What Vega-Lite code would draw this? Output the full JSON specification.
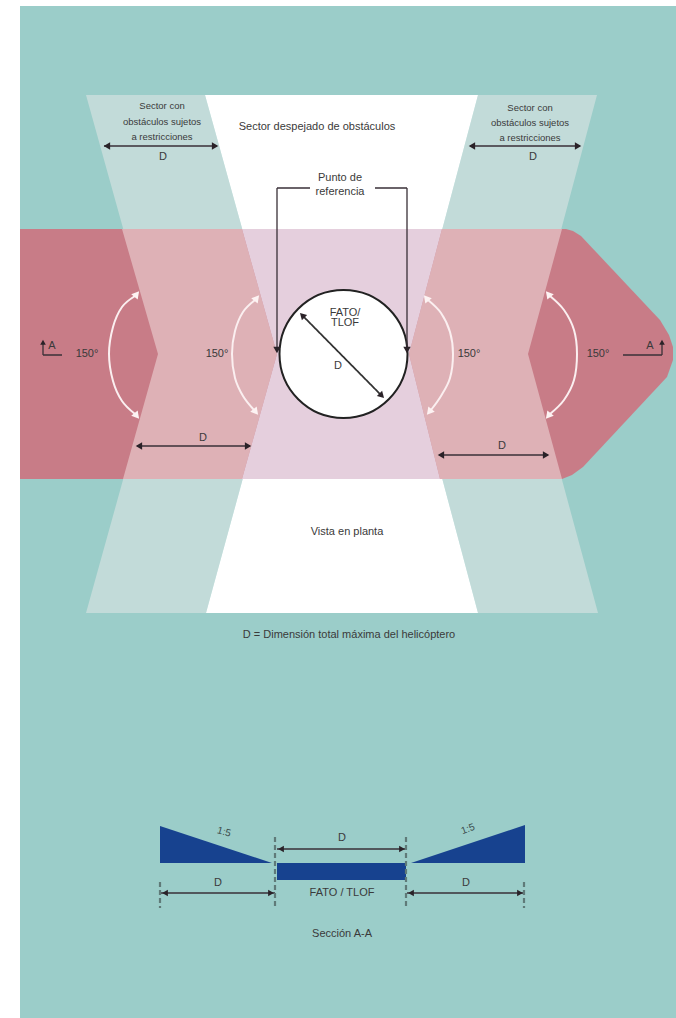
{"$schema":"https://vega.github.io/schema/vega-lite/v6.json","width":676,"height":1018,"padding":0,"autosize":"none","background":"#ffffff","config":{"view":{"stroke":null}},
"resolve":{"scale":{"color":"independent"}},
"datasets":{
"regions":[
{"region":"teal","y":6,"x":20,"x2":676},{"region":"teal","y":1018,"x":20,"x2":676},
{"region":"fanL","y":95,"x":86,"x2":205},{"region":"fanL","y":354,"x":158,"x2":277},{"region":"fanL","y":613,"x":86,"x2":206},
{"region":"fanR","y":95,"x":478,"x2":597},{"region":"fanR","y":354,"x":409,"x2":528},{"region":"fanR","y":613,"x":478,"x2":598},
{"region":"clear","y":95,"x":205,"x2":478},{"region":"clear","y":354,"x":277,"x2":409},{"region":"clear","y":613,"x":206,"x2":478},
{"region":"band","y":229,"x":20,"x2":566},{"region":"band","y":231,"x":20,"x2":573},{"region":"band","y":236,"x":20,"x2":581},{"region":"band","y":320,"x":20,"x2":660},{"region":"band","y":335,"x":20,"x2":669},{"region":"band","y":347,"x":20,"x2":673},{"region":"band","y":360,"x":20,"x2":673},{"region":"band","y":377,"x":20,"x2":667},{"region":"band","y":467,"x":20,"x2":583},{"region":"band","y":475,"x":20,"x2":572},{"region":"band","y":479,"x":20,"x2":562},
{"region":"pinkL","y":229,"x":122,"x2":242},{"region":"pinkL","y":354,"x":158,"x2":277},{"region":"pinkL","y":479,"x":123,"x2":242},
{"region":"pinkR","y":229,"x":442,"x2":562},{"region":"pinkR","y":354,"x":409,"x2":528},{"region":"pinkR","y":479,"x":440,"x2":562},
{"region":"lilac","y":229,"x":242,"x2":442},{"region":"lilac","y":354,"x":277,"x2":409},{"region":"lilac","y":479,"x":242,"x2":440},
{"region":"wedgeL","y":826,"x":160,"x2":160},{"region":"wedgeL","y":863,"x":160,"x2":272},
{"region":"wedgeR","y":825,"x":525,"x2":525},{"region":"wedgeR","y":863,"x":411,"x2":525},
{"region":"pad","y":863,"x":277,"x2":406},{"region":"pad","y":880,"x":277,"x2":406}
],
"circle":[{"x":343.5,"y":354}],
"lines":[
{"id":"d1","tone":"dark","x":104,"y":146},{"id":"d1","tone":"dark","x":217,"y":146},
{"id":"d2","tone":"dark","x":470,"y":146},{"id":"d2","tone":"dark","x":580,"y":146},
{"id":"d3","tone":"dark","x":137,"y":446},{"id":"d3","tone":"dark","x":250,"y":446},
{"id":"d4","tone":"dark","x":439,"y":455},{"id":"d4","tone":"dark","x":548,"y":455},
{"id":"refL","tone":"dark","x":310,"y":188},{"id":"refL","tone":"dark","x":277,"y":188},{"id":"refL","tone":"dark","x":277,"y":350},
{"id":"refR","tone":"dark","x":375,"y":188},{"id":"refR","tone":"dark","x":407,"y":188},{"id":"refR","tone":"dark","x":407,"y":350},
{"id":"diam","tone":"heavy","x":302,"y":315},{"id":"diam","tone":"heavy","x":382,"y":396},
{"id":"aL","tone":"dark","x":43,"y":342},{"id":"aL","tone":"dark","x":43,"y":355},{"id":"aL","tone":"dark","x":62,"y":355},
{"id":"aR","tone":"dark","x":623,"y":355},{"id":"aR","tone":"dark","x":662,"y":355},{"id":"aR","tone":"dark","x":662,"y":342},
{"id":"s1","tone":"dark","x":277,"y":849},{"id":"s1","tone":"dark","x":406,"y":849},
{"id":"s2","tone":"dark","x":161,"y":893},{"id":"s2","tone":"dark","x":275,"y":893},
{"id":"s3","tone":"dark","x":407,"y":893},{"id":"s3","tone":"dark","x":524,"y":893},
{"id":"t1","tone":"tick","x":275,"y":837},{"id":"t1","tone":"tick","x":275,"y":908},
{"id":"t2","tone":"tick","x":406,"y":837},{"id":"t2","tone":"tick","x":406,"y":908},
{"id":"t3","tone":"tick","x":160,"y":882},{"id":"t3","tone":"tick","x":160,"y":908},
{"id":"t4","tone":"tick","x":524,"y":882},{"id":"t4","tone":"tick","x":524,"y":908}
],
"arcs":[
{"id":"a1","x":135,"y":296},{"id":"a1","x":122,"y":307},{"id":"a1","x":113,"y":327},{"id":"a1","x":109,"y":354},{"id":"a1","x":113,"y":381},{"id":"a1","x":122,"y":401},{"id":"a1","x":135,"y":414},
{"id":"a2","x":255,"y":300},{"id":"a2","x":243,"y":312},{"id":"a2","x":235,"y":331},{"id":"a2","x":232,"y":354},{"id":"a2","x":235,"y":378},{"id":"a2","x":243,"y":396},{"id":"a2","x":254,"y":410},
{"id":"a3","x":428,"y":300},{"id":"a3","x":441,"y":313},{"id":"a3","x":450,"y":332},{"id":"a3","x":453,"y":354},{"id":"a3","x":450,"y":378},{"id":"a3","x":441,"y":396},{"id":"a3","x":431,"y":410},
{"id":"a4","x":550,"y":296},{"id":"a4","x":564,"y":310},{"id":"a4","x":574,"y":330},{"id":"a4","x":577,"y":354},{"id":"a4","x":574,"y":380},{"id":"a4","x":564,"y":400},{"id":"a4","x":550,"y":414}
],
"heads":[
{"x":108,"y":146,"bearing":270,"kind":"big"},{"x":214,"y":146,"bearing":90,"kind":"big"},
{"x":473,"y":146,"bearing":270,"kind":"big"},{"x":577,"y":146,"bearing":90,"kind":"big"},
{"x":140,"y":446,"bearing":270,"kind":"big"},{"x":247,"y":446,"bearing":90,"kind":"big"},
{"x":442,"y":455,"bearing":270,"kind":"big"},{"x":545,"y":455,"bearing":90,"kind":"big"},
{"x":277,"y":349,"bearing":180,"kind":"big"},{"x":407,"y":349,"bearing":180,"kind":"big"},
{"x":303,"y":316,"bearing":315,"kind":"big"},{"x":381,"y":395,"bearing":135,"kind":"big"},
{"x":282,"y":849,"bearing":270,"kind":"small"},{"x":401,"y":849,"bearing":90,"kind":"small"},
{"x":166,"y":893,"bearing":270,"kind":"small"},{"x":270,"y":893,"bearing":90,"kind":"small"},
{"x":412,"y":893,"bearing":270,"kind":"small"},{"x":519,"y":893,"bearing":90,"kind":"small"},
{"x":43,"y":343,"bearing":0,"kind":"tiny"},{"x":662,"y":343,"bearing":0,"kind":"tiny"}
],
"whiteHeads":[
{"x":136,"y":295,"bearing":40},{"x":136,"y":415,"bearing":140},
{"x":256,"y":299,"bearing":40},{"x":255,"y":411,"bearing":140},
{"x":427,"y":299,"bearing":320},{"x":430,"y":411,"bearing":220},
{"x":549,"y":295,"bearing":320},{"x":549,"y":415,"bearing":220}
],
"sectorTexts":[
{"x":162,"y":106,"label":"Sector con"},{"x":162,"y":122,"label":"obstáculos sujetos"},{"x":162,"y":137,"label":"a restricciones"},
{"x":530,"y":108,"label":"Sector con"},{"x":530,"y":123,"label":"obstáculos sujetos"},{"x":530,"y":138,"label":"a restricciones"}
],
"texts":[
{"x":163,"y":157,"label":"D"},{"x":533,"y":157,"label":"D"},
{"x":317,"y":127,"label":"Sector despejado de obstáculos"},
{"x":340,"y":178,"label":"Punto de"},{"x":340,"y":192,"label":"referencia"},
{"x":345,"y":313,"label":"FATO/"},{"x":345,"y":323,"label":"TLOF"},{"x":338,"y":366,"label":"D"},
{"x":87,"y":354,"label":"150°"},{"x":217,"y":354,"label":"150°"},{"x":469,"y":354,"label":"150°"},{"x":598,"y":354,"label":"150°"},
{"x":52,"y":346,"label":"A"},{"x":650,"y":346,"label":"A"},
{"x":203,"y":438,"label":"D"},{"x":502,"y":446,"label":"D"},
{"x":347,"y":532,"label":"Vista en planta"},
{"x":349,"y":635,"label":"D = Dimensión total máxima del helicóptero"},
{"x":342,"y":838,"label":"D"},{"x":218,"y":883,"label":"D"},{"x":466,"y":883,"label":"D"},
{"x":342,"y":893,"label":"FATO / TLOF"},{"x":342,"y":934,"label":"Sección A-A"}
]
},
"layer":[
{"data":{"name":"regions"},"mark":{"type":"area","orient":"horizontal"},
"encoding":{"y":{"field":"y","type":"quantitative","scale":{"domain":[1018,0],"nice":false,"zero":false},"axis":null},"x":{"field":"x","type":"quantitative","scale":{"domain":[0,676],"nice":false,"zero":false},"axis":null,"stack":null},"x2":{"field":"x2"},
"color":{"field":"region","type":"nominal","legend":null,"sort":null,"scale":{"domain":["teal","fanL","fanR","clear","band","pinkL","pinkR","lilac","wedgeL","wedgeR","pad"],"range":["#9bcdc9","#c2dbd9","#c2dbd9","#ffffff","#c87c87","#deb1b6","#deb1b6","#e5cfdd","#17428f","#17428f","#17428f"]}}}},
{"data":{"name":"circle"},"mark":{"type":"point","shape":"circle","size":16384,"filled":true,"fill":"#ffffff","stroke":"#222222","strokeWidth":2,"opacity":1},
"encoding":{"x":{"field":"x","type":"quantitative","axis":null},"y":{"field":"y","type":"quantitative","axis":null}}},
{"data":{"name":"arcs"},"mark":{"type":"line","interpolate":"cardinal","stroke":"#fbeff0","strokeWidth":2},
"encoding":{"x":{"field":"x","type":"quantitative","axis":null},"y":{"field":"y","type":"quantitative","axis":null},"detail":{"field":"id"},"order":{"field":"y","type":"quantitative"}}},
{"data":{"name":"lines"},"mark":{"type":"line"},
"encoding":{"x":{"field":"x","type":"quantitative","axis":null},"y":{"field":"y","type":"quantitative","axis":null},"detail":{"field":"id"},"order":{"value":null},
"color":{"field":"tone","type":"nominal","legend":null,"scale":{"domain":["dark","heavy","tick"],"range":["#3a3138","#333333","#5f7a78"]}},
"strokeWidth":{"field":"tone","type":"nominal","legend":null,"scale":{"domain":["dark","heavy","tick"],"range":[1.3,2.2,1]}},
"strokeDash":{"field":"tone","type":"nominal","legend":null,"scale":{"domain":["dark","heavy","tick"],"range":[[1,0],[1,0],[5,3]]}}}},
{"data":{"name":"heads"},"mark":{"type":"point","shape":"triangle","filled":true,"fill":"#2a2228","stroke":null,"opacity":1},
"encoding":{"x":{"field":"x","type":"quantitative","axis":null},"y":{"field":"y","type":"quantitative","axis":null},"angle":{"field":"bearing","type":"quantitative","scale":null},
"size":{"field":"kind","type":"nominal","legend":null,"scale":{"domain":["big","small","tiny"],"range":[55,32,14]}}}},
{"data":{"name":"whiteHeads"},"mark":{"type":"point","shape":"triangle","filled":true,"fill":"#fdf3f3","stroke":null,"opacity":1,"size":70},
"encoding":{"x":{"field":"x","type":"quantitative","axis":null},"y":{"field":"y","type":"quantitative","axis":null},"angle":{"field":"bearing","type":"quantitative","scale":null}}},
{"data":{"name":"sectorTexts"},"mark":{"type":"text","font":"Liberation Sans","fontSize":9.5,"fill":"#3a3a3a","align":"center","baseline":"middle"},
"encoding":{"x":{"field":"x","type":"quantitative","axis":null},"y":{"field":"y","type":"quantitative","axis":null},"text":{"field":"label"}}},
{"data":{"name":"texts"},"mark":{"type":"text","font":"Liberation Sans","fontSize":11,"fill":"#3a3a3a","align":"center","baseline":"middle"},
"encoding":{"x":{"field":"x","type":"quantitative","axis":null},"y":{"field":"y","type":"quantitative","axis":null},"text":{"field":"label"}}},
{"data":{"values":[{"x":224,"y":832,"label":"1:5"}]},"mark":{"type":"text","font":"Liberation Sans","fontSize":10,"fill":"#3a4a4a","angle":15,"align":"center","baseline":"middle"},
"encoding":{"x":{"field":"x","type":"quantitative","axis":null},"y":{"field":"y","type":"quantitative","axis":null},"text":{"field":"label"}}},
{"data":{"values":[{"x":468,"y":829,"label":"1:5"}]},"mark":{"type":"text","font":"Liberation Sans","fontSize":10,"fill":"#3a4a4a","angle":340,"align":"center","baseline":"middle"},
"encoding":{"x":{"field":"x","type":"quantitative","axis":null},"y":{"field":"y","type":"quantitative","axis":null},"text":{"field":"label"}}}
]}
